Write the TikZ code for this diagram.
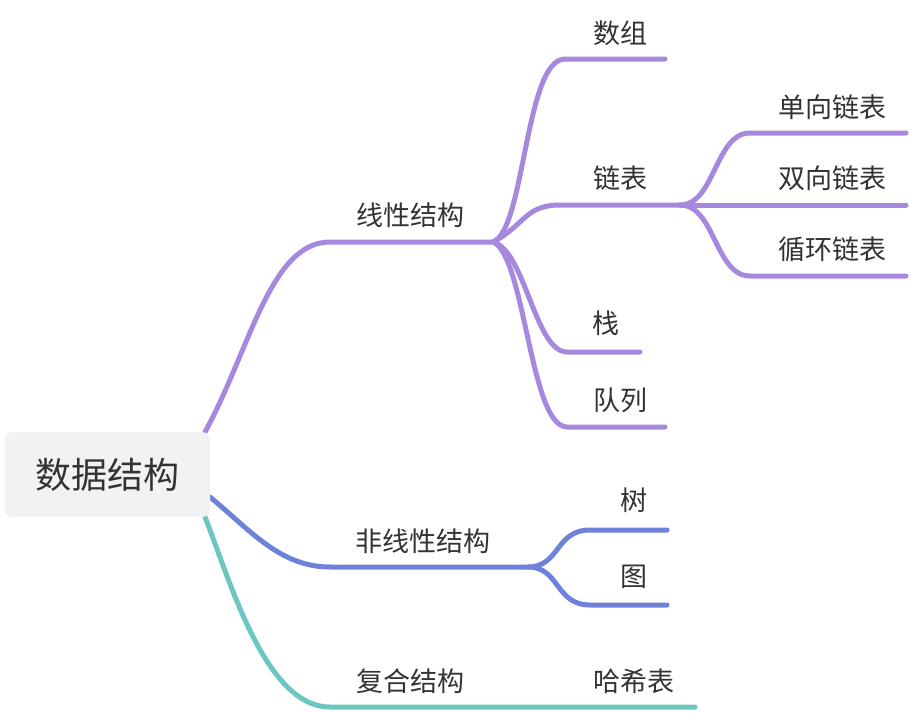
\documentclass[tikz,border=0pt]{standalone}
\usepackage{fontspec}
\setmainfont{Noto Sans CJK SC}
\begin{document}
\begin{tikzpicture}[x=1pt,y=-1pt,
  lbl/.style={text=black!80, font=\fontsize{27}{27}\selectfont, inner sep=0pt, anchor=center},
  rootbox/.style={fill=black!5, rounded corners=8pt, text=black!80, font=\fontsize{36}{36}\selectfont, inner sep=0pt, minimum width=205pt, minimum height=85pt},
  br/.style={line width=5pt, line cap=round},
  purp/.style={br, draw=mpurple},
  blu/.style={br, draw=mblue},
  tea/.style={br, draw=mteal}]
\definecolor{mpurple}{HTML}{A689DF}
\definecolor{mblue}{HTML}{6F82DB}
\definecolor{mteal}{HTML}{6CC6C1}
\useasboundingbox (0,0) rectangle (910,712);

% connector coordinates
\coordinate (r1) at (205,432);
\coordinate (r2) at (210,497);
\coordinate (r3) at (205,517);
\coordinate (a0) at (330,242);
\coordinate (a1) at (493,242);
\coordinate (b0) at (330,567);
\coordinate (b1) at (528,567);
\coordinate (c0) at (330,707);
\coordinate (c1) at (695,707);
\coordinate (s1a) at (565,59);  \coordinate (s1b) at (665,59);
\coordinate (s2a) at (560,205); \coordinate (s2b) at (680,205);
\coordinate (s3a) at (567,352); \coordinate (s3b) at (640,352);
\coordinate (s4a) at (567,427); \coordinate (s4b) at (665,427);
\coordinate (l1a) at (750,133); \coordinate (l1b) at (906,133);
\coordinate (l2b) at (906,205);
\coordinate (l3a) at (750,276); \coordinate (l3b) at (906,276);
\coordinate (t1a) at (590,530); \coordinate (t1b) at (667,530);
\coordinate (t2a) at (590,605); \coordinate (t2b) at (667,605);

% purple branch
\draw[purp] (r1) .. controls (250,350) and (270,242) .. (a0) -- (a1);
\draw[purp] (a1) .. controls (525,230) and (525,59) .. (s1a) -- (s1b);
\draw[purp] (a1) .. controls (525,225) and (525,205) .. (s2a) -- (s2b);
\draw[purp] (a1) .. controls (525,250) and (535,352) .. (s3a) -- (s3b);
\draw[purp] (a1) .. controls (525,255) and (530,427) .. (s4a) -- (s4b);
\draw[purp] (s2b) .. controls (715,205) and (715,133) .. (l1a) -- (l1b);
\draw[purp] (s2b) -- (l2b);
\draw[purp] (s2b) .. controls (715,205) and (715,276) .. (l3a) -- (l3b);

% blue branch
\draw[blu] (r2) .. controls (250,530) and (280,567) .. (b0) -- (b1);
\draw[blu] (b1) .. controls (560,567) and (555,530) .. (t1a) -- (t1b);
\draw[blu] (b1) .. controls (560,567) and (555,605) .. (t2a) -- (t2b);

% teal branch
\draw[tea] (r3) .. controls (230,580) and (265,707) .. (c0) -- (c1);

% nodes
\node[rootbox] (root) at (107.5,474.5) {数据结构};
\node[lbl] (xx) at (410,215) {线性结构};
\node[lbl] (fx) at (423,541) {非线性结构};
\node[lbl] (fh) at (410,681) {复合结构};
\node[lbl] (hx) at (634,681) {哈希表};
\node[lbl] (sz) at (620,33) {数组};
\node[lbl] (lb) at (620,178) {链表};
\node[lbl] (zh) at (606,323) {栈};
\node[lbl] (dl) at (620,400) {队列};
\node[lbl] (dx) at (832,107) {单向链表};
\node[lbl] (sx) at (832,178) {双向链表};
\node[lbl] (xh) at (832,249) {循环链表};
\node[lbl] (sh) at (634,500) {树};
\node[lbl] (tu) at (634,577) {图};
\end{tikzpicture}
\end{document}
